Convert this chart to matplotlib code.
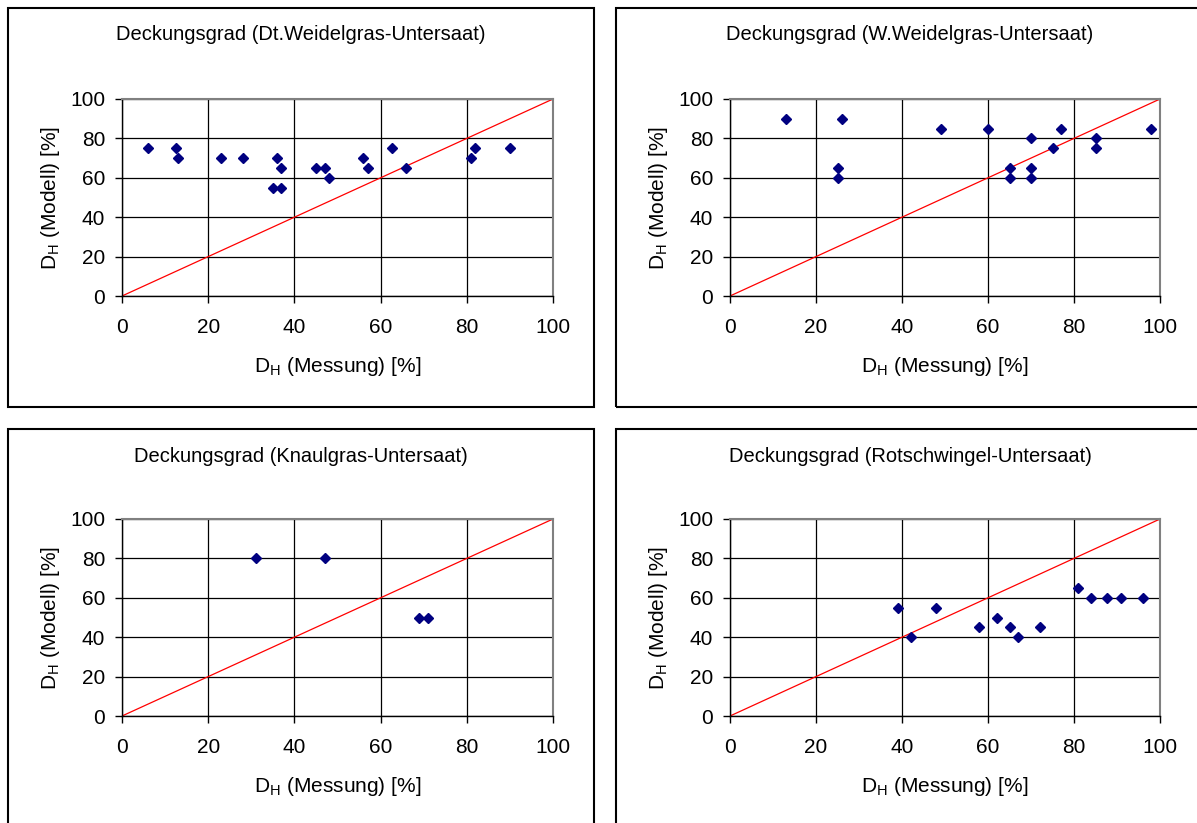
import numpy as np
import matplotlib.pyplot as plt
from matplotlib.patches import Rectangle

plt.rcParams['font.family'] = ['Liberation Sans', 'DejaVu Sans']
plt.rcParams['mathtext.fontset'] = 'custom'
plt.rcParams['mathtext.rm'] = 'Liberation Sans'

# Messung (x) vs. Modell (y), Deckungsgrad in %
dt_mess = [6, 12.5, 13, 23, 28, 36, 37, 35, 37, 45, 47, 48, 56, 57, 62.6, 66, 81, 82, 90]
dt_mod = [75, 75, 70, 70, 70, 70, 65, 55, 55, 65, 65, 60, 70, 65, 75, 65, 70, 75, 75]

w_mess = [13, 26, 25, 25, 49, 60, 70, 65, 65, 70, 70, 75, 77, 85, 85, 98]
w_mod = [90, 90, 65, 60, 85, 85, 80, 65, 60, 65, 60, 75, 85, 80, 75, 85]

kn_mess = [31, 47, 69, 71]
kn_mod = [80, 80, 50, 50]

rot_mess = [39, 42, 48, 58, 62, 65, 67, 72, 81, 84, 87.6, 91, 96]
rot_mod = [55, 40, 55, 45, 50, 45, 40, 45, 65, 60, 60, 60, 60]

titles = ['Deckungsgrad (Dt.Weidelgras-Untersaat)',
          'Deckungsgrad (W.Weidelgras-Untersaat)',
          'Deckungsgrad (Knaulgras-Untersaat)',
          'Deckungsgrad (Rotschwingel-Untersaat)']
ticks = [0, 20, 40, 60, 80, 100]

W, H = 1197, 823
fig = plt.figure(figsize=(W / 100, H / 100), dpi=100)

# panel boxes (pixels: left, top, right, bottom) and plot areas
boxes = [(8, 8, 594, 407), (616, 8, 1204, 407), (8, 429, 594, 830), (616, 429, 1204, 830)]
areas = [(122, 99, 553, 296), (730, 99, 1160, 296), (122, 519, 553, 716), (730, 519, 1160, 716)]
series = [(dt_mess, dt_mod), (w_mess, w_mod), (kn_mess, kn_mod), (rot_mess, rot_mod)]

def fx(px):
    return px / W

def fy(py):
    return 1 - py / H

for box, area, (xs, ys), title in zip(boxes, areas, series, titles):
    l, t, r, b = box
    fig.patches.append(Rectangle((fx(l), fy(b)), fx(r - l), (b - t) / H, transform=fig.transFigure,
                                 fill=False, edgecolor='black', linewidth=1.5, clip_on=False))
    fig.text(fx((l + r) / 2), fy(t + 27), title, ha='center', va='center', fontsize=14.5)

    al, at, ar, ab = area
    ax = fig.add_axes([fx(al), fy(ab), fx(ar - al), (ab - at) / H])
    ax.set_xlim(0, 100)
    ax.set_ylim(0, 100)
    ax.set_xticks(ticks)
    ax.set_yticks(ticks)
    ax.grid(True, color='black', linewidth=0.9)
    ax.set_axisbelow(True)
    ax.plot([0, 100], [0, 100], color='red', linewidth=0.9, zorder=2)
    ax.plot(xs, ys, linestyle='none', marker='D', markersize=5.3, color='#000080', zorder=3)
    for s in ['top', 'right']:
        ax.spines[s].set_color('#808080')
        ax.spines[s].set_linewidth(1.5)
    for s in ['left', 'bottom']:
        ax.spines[s].set_color('black')
        ax.spines[s].set_linewidth(1.0)
    ax.tick_params(direction='out', length=5, width=1, labelsize=15)
    ax.tick_params(axis='x', pad=11)
    ax.tick_params(axis='y', pad=7)
    ax.set_xlabel('D$_{\\rm H}$ (Messung) [%]', fontsize=15, labelpad=13)
    ax.set_ylabel('D$_{\\rm H}$ (Modell) [%]', fontsize=15, labelpad=6)

fig.savefig('out.png', dpi=100)
